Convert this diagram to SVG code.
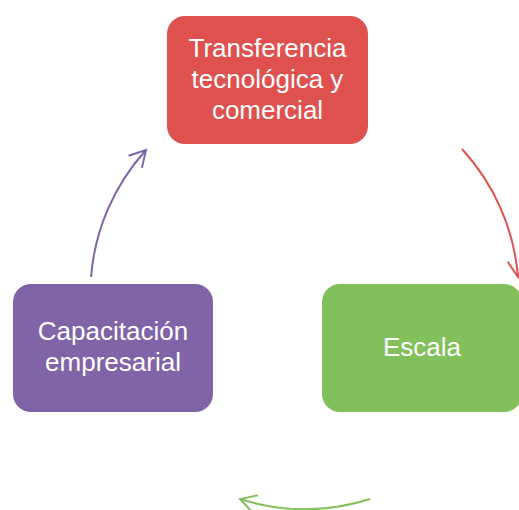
<svg xmlns="http://www.w3.org/2000/svg" width="519" height="510" viewBox="0 0 519 510">
<style>
.lbl{font-family:"Liberation Sans",Arial,sans-serif;font-size:26px;fill:#ffffff;text-anchor:middle}
.arc{fill:none;stroke-width:2}
</style>
<defs>
<marker id="hr" markerUnits="userSpaceOnUse" markerWidth="24" markerHeight="24" refX="16" refY="9" orient="auto" overflow="visible"><path d="M0,0 L16,9 L0,18" fill="none" stroke="#df514f" stroke-width="2"/></marker>
<marker id="hg" markerUnits="userSpaceOnUse" markerWidth="24" markerHeight="24" refX="16" refY="9" orient="auto" overflow="visible"><path d="M0,0 L16,9 L0,18" fill="none" stroke="#82c05c" stroke-width="2"/></marker>
<marker id="hp" markerUnits="userSpaceOnUse" markerWidth="24" markerHeight="24" refX="16" refY="9" orient="auto" overflow="visible"><path d="M0,0 L16,9 L0,18" fill="none" stroke="#8064a8" stroke-width="2"/></marker>
</defs>
<g id="connectors">
<path class="arc" stroke="#df514f" d="M462,149 A215,215 0 0 1 518,277" marker-end="url(#hr)"/>
<path class="arc" stroke="#82c05c" d="M370,499 A215,215 0 0 1 240,499" marker-end="url(#hg)"/>
<path class="arc" stroke="#8064a8" d="M91,277 A215,215 0 0 1 146,150" marker-end="url(#hp)"/>
</g>
<g id="node-transferencia">
<rect x="167" y="16" width="201" height="128" rx="18" fill="#df514f"/>
<text class="lbl" x="267.5" y="57">Transferencia</text>
<text class="lbl" x="267.5" y="88">tecnológica y</text>
<text class="lbl" x="267.5" y="119">comercial</text>
</g>
<g id="node-escala">
<rect x="322" y="284" width="200" height="128" rx="18" fill="#82c05c"/>
<text class="lbl" x="422" y="356">Escala</text>
</g>
<g id="node-capacitacion">
<rect x="13" y="284" width="200" height="128" rx="18" fill="#8064a8"/>
<text class="lbl" x="113" y="340">Capacitación</text>
<text class="lbl" x="113" y="371">empresarial</text>
</g>
</svg>
